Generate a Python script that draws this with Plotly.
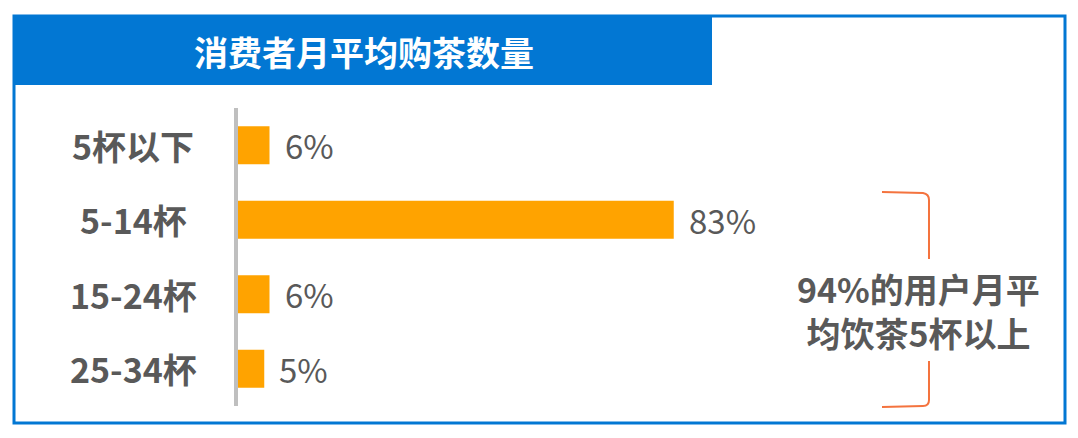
import plotly.graph_objects as go

categories = ["5杯以下", "5-14杯", "15-24杯", "25-34杯"]
values = [6, 83, 6, 5]
value_labels = ["6%", "83%", "6%", "5%"]
title_text = "消费者月平均购茶数量"
note_lines = ["94%的用户月平", "均饮茶5杯以上"]

W, H = 1078, 438
BLUE = "#0277D3"
ORANGE = "#FFA300"
GREY_TXT = "#595959"
FONT = "Noto Sans CJK SC"

def px(x):
    return x / W

def py(y):
    return 1 - y / H

fig = go.Figure()
fig.add_trace(go.Bar(
    x=values, y=categories, orientation="h",
    marker=dict(color=ORANGE, line=dict(width=0)),
    width=0.51, hoverinfo="skip",
))

ann = []
for c, v, t in zip(categories, values, value_labels):
    ann.append(dict(x=v, y=c, xref="x", yref="y", text=t, showarrow=False,
                    xanchor="left", xshift=13,
                    font=dict(family=FONT, size=33, color=GREY_TXT)))
    ann.append(dict(x=px(133), y=c, xref="paper", yref="y", text=f"<b>{c}</b>",
                    showarrow=False, xanchor="center",
                    font=dict(family=FONT, size=34, color=GREY_TXT)))

ann.append(dict(x=px(364), y=py(51), xref="paper", yref="paper",
                text=f"<b>{title_text}</b>", showarrow=False,
                xanchor="center", yanchor="middle",
                font=dict(family=FONT, size=34, color="white")))
ann.append(dict(x=px(918), y=py(310), xref="paper", yref="paper",
                text="<b>" + "<br>".join(note_lines) + "</b>", showarrow=False,
                xanchor="center", yanchor="middle", align="center",
                font=dict(family=FONT, size=34, color=GREY_TXT)))

def path(points):
    s = ""
    for p in points:
        coords = " ".join(f"{px(a):.5f},{py(b):.5f}" for a, b in p[1:])
        s += f"{p[0]} {coords} "
    return s.strip()

BR = "#F4733E"
shapes = [
    dict(type="rect", xref="paper", yref="paper", x0=px(14), x1=px(1065),
         y0=py(423), y1=py(16), line=dict(color=BLUE, width=3)),
    dict(type="rect", xref="paper", yref="paper", x0=px(13), x1=px(712),
         y0=py(85), y1=py(15), fillcolor=BLUE, line=dict(width=0)),
    dict(type="line", xref="paper", yref="paper", x0=px(236), x1=px(236),
         y0=py(108), y1=py(406), line=dict(color="#BFBFBF", width=4)),
    dict(type="path", xref="paper", yref="paper",
         path=path([("M", (882, 192)), ("L", (923, 193)),
                    ("Q", (929, 194), (929, 200)), ("L", (929, 259))]),
         line=dict(color=BR, width=2)),
    dict(type="path", xref="paper", yref="paper",
         path=path([("M", (929, 361)), ("L", (929, 400)),
                    ("Q", (929, 406), (923, 406)), ("L", (882, 407))]),
         line=dict(color=BR, width=2)),
]

fig.update_layout(
    width=W, height=H, margin=dict(l=0, r=0, t=0, b=0),
    paper_bgcolor="white", plot_bgcolor="white",
    showlegend=False, annotations=ann, shapes=shapes,
    xaxis=dict(domain=[px(238), 1], range=[0, 160], visible=False, fixedrange=True),
    yaxis=dict(domain=[py(406), py(108)], range=[3.5, -0.5], type="category",
               categoryorder="array", categoryarray=categories,
               visible=False, fixedrange=True),
)

fig.write_html("out.html", config={"displayModeBar": False},
               post_script="document.body.style.margin='0';document.body.style.overflow='hidden';")
